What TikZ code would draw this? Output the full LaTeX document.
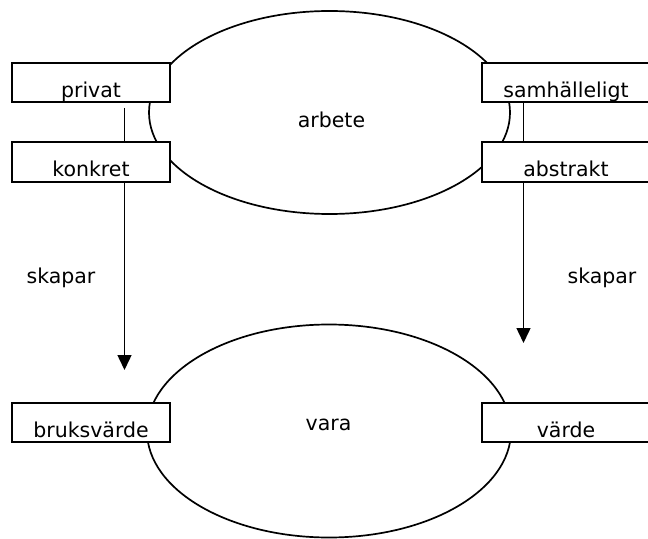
\documentclass[tikz,border=0pt]{standalone}
\usepackage{fontspec}
\setmainfont{DejaVu Sans}
\usetikzlibrary{shapes.geometric,arrows.meta}
\tikzset{
  oval/.style={ellipse, draw, line width=1.7bp, inner sep=0pt},
  tagbox/.style={rectangle, draw, fill=white, line width=2bp, inner xsep=0pt, inner ysep=0pt,
    text height=34.5bp, text depth=5bp},
  txt/.style={anchor=base, inner sep=0pt},
  link/.style={line width=1.5bp},
  arr/.style={line width=1.5bp, -{Triangle[width=14bp,length=15bp]}}
}
\begin{document}
\begin{tikzpicture}[x=1bp,y=-1bp,font=\fontsize{20.5bp}{24bp}\selectfont]
\useasboundingbox (0,0) rectangle (648,539);
% ellipses
\node[oval, minimum width=361bp, minimum height=203bp] (arbeteOval) at (329.5,112.5) {};
\node[oval, minimum width=364bp, minimum height=213bp] (varaOval) at (329,431) {};
% boxes
\node[tagbox, minimum width=158bp] (privat) at (91,82.5) {privat};
\node[tagbox, minimum width=158bp] (konkret) at (91,162.2) {konkret};
\node[tagbox, minimum width=168bp] (samh) at (566,82.5) {samhälleligt};
\node[tagbox, minimum width=168bp] (abstrakt) at (566,162.2) {abstrakt};
\node[tagbox, minimum width=158bp] (bruks) at (91,422.5) {bruksvärde};
\node[tagbox, minimum width=168bp] (varde) at (566,422.5) {värde};
% texts
\node[txt] (arbete) at (331.5,128) {arbete};
\node[txt] (vara) at (328.5,430) {vara};
\node[txt] (skaparL) at (61,283) {skapar};
\node[txt] (skaparR) at (602,283) {skapar};
% connectors
\coordinate (pl) at (124.5,108);
\coordinate (tipL) at (124.5,370);
\coordinate (tipR) at (523.5,343);
\draw[link] (pl) -- (pl |- konkret.north);
\draw[arr] (pl |- konkret.south) -- (tipL);
\draw[link] (tipR |- samh.south) -- (tipR |- abstrakt.north);
\draw[arr] (tipR |- abstrakt.south) -- (tipR);
\end{tikzpicture}
\end{document}
